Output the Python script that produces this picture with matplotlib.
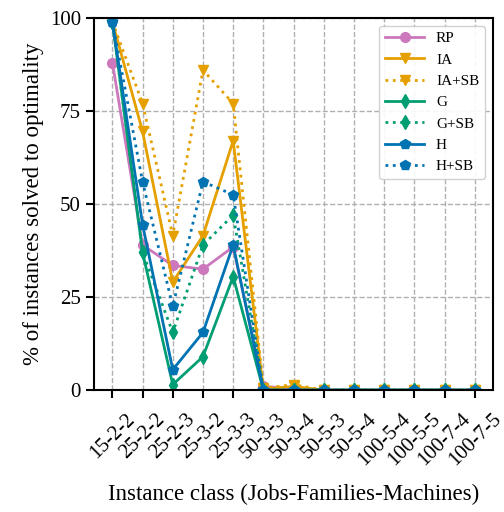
import matplotlib
matplotlib.use("Agg")
import matplotlib.pyplot as plt

plt.rcParams['font.family'] = ['Liberation Serif', 'DejaVu Serif']

classes = ["15-2-2", "25-2-2", "25-2-3", "25-3-2", "25-3-3", "50-3-3", "50-3-4",
           "50-5-3", "50-5-4", "100-5-4", "100-5-5", "100-7-4", "100-7-5"]

rp = [88, 39, 33.5, 32.5, 38.5, 1, 0.4, 0, 0, 0, 0, 0, 0]
ia = [99, 69.5, 29, 41.5, 67, 0.3, 1, 0, 0, 0, 0, 0, 0]
ia_sb = [99, 77, 41.5, 86, 77, 0.5, 1.5, 0, 0, 0, 0, 0, 0]
g = [99, 37, 1.5, 9, 30.5, 0, 0, 0, 0, 0, 0, 0, 0]
g_sb = [99, 37, 15.5, 39, 47, 0, 0, 0, 0, 0, 0, 0, 0]
h = [99, 44.5, 5.5, 15.5, 39, 0, 0, 0, 0, 0, 0, 0, 0]
h_sb = [99, 56, 22.5, 56, 52.5, 0, 0, 0, 0, 0, 0, 0, 0]

series = [
    ("RP", rp, "#CC78BC", "-", "o"),
    ("IA", ia, "#E5A000", "-", "v"),
    ("IA+SB", ia_sb, "#E5A000", ":", "v"),
    ("G", g, "#029E73", "-", "d"),
    ("G+SB", g_sb, "#029E73", ":", "d"),
    ("H", h, "#0173B2", "-", "p"),
    ("H+SB", h_sb, "#0173B2", ":", "p"),
]

fig = plt.figure(figsize=(5.04, 5.12), dpi=100)
ax = fig.add_axes([0.187, 0.238, 0.791, 0.727])

x = list(range(len(classes)))
for name, vals, color, ls, mk in series:
    ax.plot(x, vals, linestyle=ls, marker=mk, color=color, lw=2,
            markersize=7, label=name)

ax.set_ylim(0, 100)
ax.set_yticks([0, 25, 50, 75, 100])
ax.set_xticks(x)
ax.set_xticklabels(classes, rotation=45, fontsize=15)
ax.tick_params(axis='y', labelsize=15)
ax.tick_params(axis='x', pad=8)
ax.tick_params(axis='both', direction='out', length=6, width=1.5, color='black')
ax.grid(True, linestyle='--', color='#b0b0b0', lw=1)
for s in ax.spines.values():
    s.set_linewidth(1.5)
    s.set_color('black')

ax.set_xlabel("Instance class (Jobs-Families-Machines)", fontsize=16.5, labelpad=10)
ax.set_ylabel("% of instances solved to optimality", fontsize=16.5, labelpad=4)

leg = ax.legend(loc='upper right', fontsize=11, frameon=True, fancybox=True,
                edgecolor='#cccccc', framealpha=0.9, handlelength=2.5,
                borderaxespad=0.5)

fig.savefig("out.png", dpi=100)
